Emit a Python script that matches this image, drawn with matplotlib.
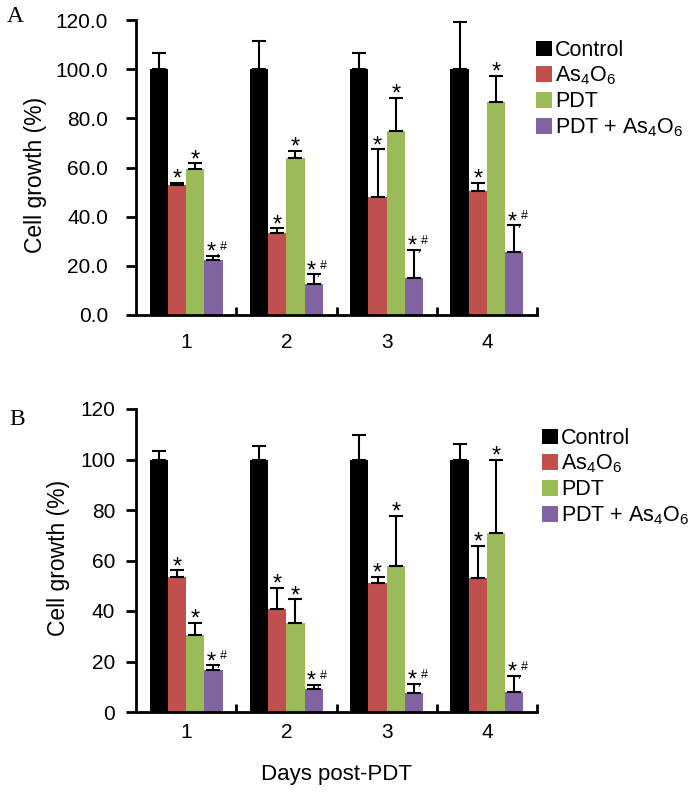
import matplotlib
matplotlib.use("Agg")
import matplotlib.pyplot as plt
import numpy as np
from matplotlib.ticker import FixedLocator, FormatStrFormatter

plt.rcParams['font.family'] = ['Liberation Sans', 'DejaVu Sans']
plt.rcParams['mathtext.fontset'] = 'custom'
plt.rcParams['mathtext.rm'] = 'Liberation Sans'
plt.rcParams['mathtext.it'] = 'Liberation Sans:italic'
plt.rcParams['mathtext.bf'] = 'Liberation Sans:bold'

days = ["1", "2", "3", "4"]
series = ["Control", r"As$_\mathregular{4}$O$_\mathregular{6}$", "PDT",
          r"PDT + As$_\mathregular{4}$O$_\mathregular{6}$"]
colors = ["#000000", "#C0504D", "#9BBB59", "#8064A2"]

# Panel A
a_control = [100.0, 100.0, 100.0, 100.0]
a_control_err = [6.5, 11.4, 6.4, 19.2]
a_as = [53.0, 33.2, 47.9, 50.4]
a_as_err = [0.6, 2.0, 19.5, 3.3]
a_pdt = [59.3, 63.7, 74.9, 86.5]
a_pdt_err = [2.4, 3.1, 13.3, 10.7]
a_combo = [22.5, 12.6, 15.2, 25.8]
a_combo_err = [1.6, 3.9, 11.2, 10.7]

# Panel B
b_control = [100.0, 100.0, 100.0, 100.0]
b_control_err = [3.4, 5.2, 9.8, 6.2]
b_as = [53.3, 40.7, 50.9, 53.2]
b_as_err = [2.8, 8.5, 2.7, 12.7]
b_pdt = [30.4, 35.1, 57.8, 70.8]
b_pdt_err = [5.0, 9.5, 19.8, 29.1]
b_combo = [16.7, 9.3, 7.5, 8.1]
b_combo_err = [1.8, 1.3, 3.5, 6.2]

star_text = "*"
hash_text = "#"

fig = plt.figure(figsize=(6.95, 7.93), dpi=100)
axA = fig.add_axes([136/695, 1-315/793, 401/695, 295/793])
axB = fig.add_axes([136/695, 1-712/793, 401/695, 303/793])

x = np.arange(1, 5)
width = 0.182
offsets = [-1.5*width, -0.5*width, 0.5*width, 1.5*width]


def mark(ax, xx, top, combo):
    if not combo:
        ax.annotate(star_text, (xx, top), xytext=(0, -2), textcoords='offset points',
                    ha='center', va='baseline', fontsize=17, zorder=4)
    else:
        ax.annotate(star_text, (xx, top), xytext=(-1.5, -2), textcoords='offset points',
                    ha='center', va='baseline', fontsize=17, zorder=4)
        ax.annotate(",", (xx, top), xytext=(3.2, -0.5), textcoords='offset points',
                    ha='center', va='baseline', fontsize=12, zorder=4)
        ax.annotate(hash_text, (xx, top), xytext=(7.2, 4.2), textcoords='offset points',
                    ha='center', va='baseline', fontsize=9, zorder=4)


def draw(ax, vals, errs, fmt, ypad, xpad, label_x, label_y, legend_pos):
    handles = []
    for i, (v, e) in enumerate(zip(vals, errs)):
        xs = x + offsets[i]
        h = ax.bar(xs, v, width, color=colors[i], label=series[i], zorder=2)
        handles.append(h)
        ax.errorbar(xs, v, yerr=[np.zeros(len(e)), e], fmt='none', ecolor='black',
                    elinewidth=1.5, capsize=5, capthick=1.5, zorder=3)
        if i > 0:
            for xx, vv, ee in zip(xs, v, e):
                mark(ax, xx, vv + ee, i == 3)
    ax.set_xlim(0.5, 4.5)
    ax.set_ylim(0, 120)
    ax.set_yticks(np.arange(0, 121, 20))
    ax.yaxis.set_major_formatter(FormatStrFormatter(fmt))
    ax.set_xticks(x)
    ax.set_xticklabels(days)
    ax.xaxis.set_minor_locator(FixedLocator([1.5, 2.5, 3.5, 4.5]))
    ax.tick_params(axis='x', which='major', length=0, pad=xpad, labelsize=15)
    ax.tick_params(axis='x', which='minor', direction='in', length=6, width=2)
    ax.tick_params(axis='y', which='major', direction='out', length=7, width=2,
                   pad=ypad, labelsize=15)
    for s in ['top', 'right']:
        ax.spines[s].set_visible(False)
    for s in ['left', 'bottom']:
        ax.spines[s].set_linewidth(2)
    ax.set_ylabel("Cell growth (%)", fontsize=16.5)
    ax.yaxis.set_label_coords(label_x, label_y)
    fig.legend(handles=handles, labels=series, loc='upper left',
               bbox_to_anchor=legend_pos, frameon=False, fontsize=15.5,
               handlelength=0.75, handleheight=0.75, handletextpad=0.15,
               labelspacing=0.18, borderpad=0, borderaxespad=0)


draw(axA, [a_control, a_as, a_pdt, a_combo],
     [a_control_err, a_as_err, a_pdt_err, a_combo_err],
     '%.1f', 13, 13, -0.222, 0.475, (536/695, 1-40/793))
draw(axB, [b_control, b_as, b_pdt, b_combo],
     [b_control_err, b_as_err, b_pdt_err, b_combo_err],
     '%d', 8, 8, -0.165, 0.51, (542/695, 1-428/793))

axB.set_xlabel("Days post-PDT", fontsize=16, labelpad=16)

fig.text(7/695, 1-17/793, "A", family='Liberation Serif', fontsize=17, va='center', ha='left')
fig.text(9/695, 1-420/793, "B", family='Liberation Serif', fontsize=17, va='center', ha='left')

fig.savefig("out.png", dpi=100)
